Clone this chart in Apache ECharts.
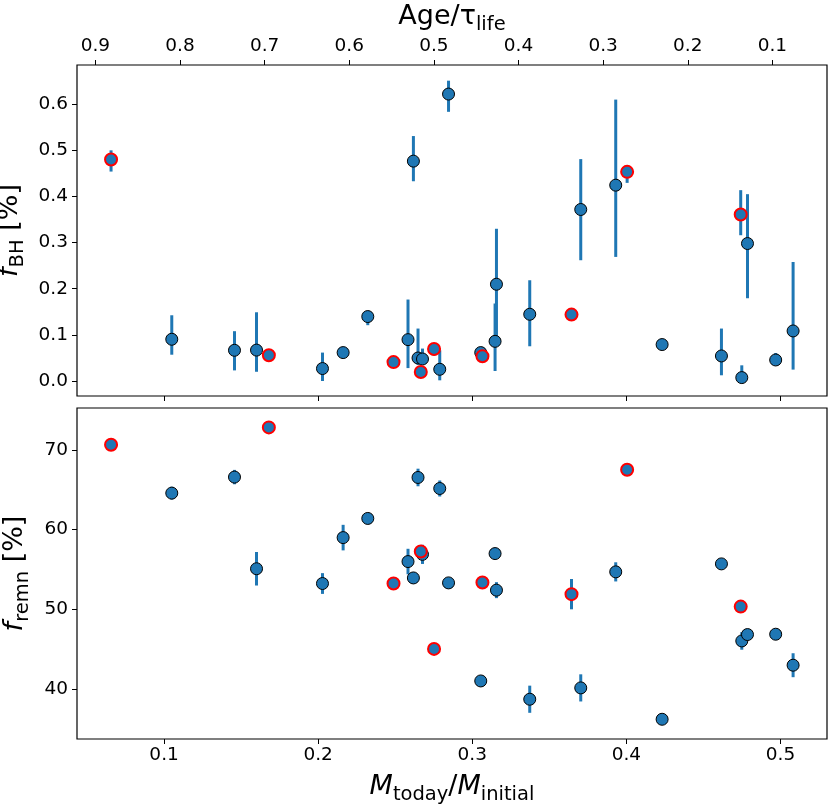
<!DOCTYPE html>
<html>
<head>
<meta charset="utf-8">
<title>f_BH / f_remn vs M_today/M_initial</title>
<script src="https://cdn.jsdelivr.net/npm/echarts@6.0.0/dist/echarts.min.js"></script>
<style>
    html, body { margin: 0; padding: 0; background: #fff; }
    #echart-main { width: 831px; height: 807px; }
</style>
</head>
<body>
<div id="echart-main"></div>
<script>
// M_today / M_initial of each cluster (shared by both panels)
var massRatio = [0.0656, 0.105, 0.1457, 0.160, 0.168, 0.2028, 0.2162, 0.2322, 0.2489, 0.2583, 0.2618,
    0.2648, 0.2666, 0.2677, 0.2752, 0.2789, 0.2846, 0.3055, 0.3066, 0.3148, 0.3157, 0.3373,
    0.3644, 0.3704, 0.3931, 0.4005, 0.4232, 0.4617, 0.4742, 0.4749, 0.4786, 0.4969, 0.5082];

// f_BH [%] with lower / upper error
var fBH = [0.480, 0.0905, 0.0666, 0.067, 0.0557, 0.027, 0.0616, 0.1397, 0.041, 0.0897, 0.4766,
    0.0499, 0.0195, 0.0477, 0.0694, 0.0254, 0.622, 0.0616, 0.0536, 0.086, 0.2098, 0.1447,
    0.144, 0.3718, 0.4245, 0.4534, 0.079, 0.0543, 0.361, 0.0074, 0.298, 0.0456, 0.1085];
var fBHLow = [0.454, 0.057, 0.023, 0.02, 0.0557, 0.0, 0.0616, 0.121, 0.041, 0.028, 0.433,
    0.035, 0.0195, 0.035, 0.055, 0.0015, 0.5835, 0.055, 0.0536, 0.0217, 0.09, 0.0753,
    0.144, 0.2618, 0.269, 0.4295, 0.071, 0.0124, 0.316, -0.005, 0.1794, 0.035, 0.0247];
var fBHHigh = [0.500, 0.1425, 0.108, 0.149, 0.0557, 0.0616, 0.0616, 0.145, 0.041, 0.1766, 0.531,
    0.1137, 0.0195, 0.0703, 0.0694, 0.0666, 0.651, 0.066, 0.0536, 0.168, 0.33, 0.2184,
    0.144, 0.481, 0.610, 0.46, 0.085, 0.1137, 0.4137, 0.034, 0.405, 0.0607, 0.258];

// f_remn [%] with symmetric error
var fRemn = [70.63, 64.57, 66.58, 55.1, 72.8, 53.25, 59.0, 61.4, 53.25, 56.0, 53.95,
    66.53, 57.26, 56.9, 45.06, 65.15, 53.33, 41.05, 53.37, 57.0, 52.42, 38.76,
    51.92, 40.18, 54.71, 67.49, 36.25, 55.71, 50.36, 46.06, 46.86, 46.9, 43.02];
var fRemnErr = [0, 0.8, 0.9, 2.1, 0, 1.3, 1.6, 0.3, 0, 1.6, 0.7,
    1.1, 0, 1.2, 0, 1.0, 0, 0, 0, 0.4, 1.0, 1.7,
    1.9, 1.7, 1.2, 0, 0, 0.6, 0, 1.1, 0.6, 0, 1.5];

// 1 = marker with red edge
var redEdge = [1, 0, 0, 0, 1, 0, 0, 0, 1, 0, 0,
    0, 1, 0, 1, 0, 0, 0, 1, 0, 0, 0,
    1, 0, 0, 1, 0, 0, 1, 0, 0, 0, 0];

// tick labels
var massTicks = [0.1, 0.2, 0.3, 0.4, 0.5];
var ageTicks = [0.1, 0.2, 0.3, 0.4, 0.5, 0.6, 0.7, 0.8, 0.9];
var fBHTicks = [0.0, 0.1, 0.2, 0.3, 0.4, 0.5, 0.6];
var fRemnTicks = [40, 50, 60, 70];

var FONT = 'DejaVu Sans';
var BLUE = '#1f77b4';

/**
 * error bar data: [x, low, high]
 */
function errorData(yLow, yHigh) {
    var list = [];
    for (var i = 0; i < massRatio.length; i++) {
        if (yHigh[i] - yLow[i] > 0) {
            list.push([massRatio[i], yLow[i], yHigh[i]]);
        }
    }
    return list;
}

/**
 * point data split by edge colour
 */
function pointData(yValues, red) {
    var list = [];
    for (var i = 0; i < massRatio.length; i++) {
        if (redEdge[i] === red) {
            list.push([massRatio[i], yValues[i]]);
        }
    }
    return list;
}

function renderErrorBar(params, api) {
    var p1 = api.coord([api.value(0), api.value(1)]);
    var p2 = api.coord([api.value(0), api.value(2)]);
    return {
        type: 'line',
        shape: { x1: p1[0], y1: p1[1], x2: p2[0], y2: p2[1] },
        style: { stroke: BLUE, lineWidth: 3, lineCap: 'butt' }
    };
}

// shallow merge, no jQuery on this page
function extend(a, b) {
    var out = {};
    var k;
    for (k in b) { out[k] = b[k]; }
    for (k in a) { out[k] = a[k]; }
    return out;
}

var tickStyle = { show: true, inside: false, length: 5, lineStyle: { color: '#000', width: 1 } };
var lineStyle = { show: false, onZero: false };
var labelStyle = { fontFamily: FONT, fontSize: 18.5, color: '#000' };
var nameStyle = {
    fontFamily: FONT, fontSize: 27, color: '#000',
    rich: {
        i: { fontFamily: FONT, fontSize: 27, fontStyle: 'italic', color: '#000' },
        n: { fontFamily: FONT, fontSize: 27, color: '#000' },
        s: { fontFamily: FONT, fontSize: 19.5, color: '#000', padding: [16, 0, 0, 0] }
    }
};

function initChart() {
    var myChart = echarts.init(document.getElementById('echart-main'));

    var remnLow = [], remnHigh = [];
    for (var i = 0; i < fRemn.length; i++) {
        remnLow.push(fRemn[i] - fRemnErr[i]);
        remnHigh.push(fRemn[i] + fRemnErr[i]);
    }

    var gridBase = {
        left: 77, right: 4, height: 331, show: true,
        borderColor: '#000', borderWidth: 1.2, backgroundColor: 'transparent',
        containLabel: false, outerBoundsMode: 'none'
    };

    var option = {
        backgroundColor: '#fff',
        animation: false,
        grid: [extend({ top: 65 }, gridBase), extend({ top: 408 }, gridBase)],
        xAxis: [{
            // top panel, M axis (ticks only)
            type: 'value', gridIndex: 0, position: 'bottom',
            min: 0.0435, max: 0.5302,
            axisLine: lineStyle,
            axisTick: extend({ customValues: massTicks }, tickStyle),
            axisLabel: { show: false, customValues: massTicks },
            splitLine: { show: false }
        }, {
            // top panel, Age axis
            type: 'value', gridIndex: 0, position: 'top', inverse: true,
            min: 0.0355, max: 0.9217,
            name: '{n|Age/τ}{s|life}',
            nameLocation: 'middle', nameGap: 30,
            nameTextStyle: nameStyle,
            axisLine: lineStyle,
            axisTick: extend({ customValues: ageTicks }, tickStyle),
            axisLabel: extend({ customValues: ageTicks, margin: 9, formatter: function (v) { return v.toFixed(1); } }, labelStyle),
            splitLine: { show: false }
        }, {
            // bottom panel, M axis
            type: 'value', gridIndex: 1, position: 'bottom',
            min: 0.0435, max: 0.5302,
            name: '{i|M}{s|today}{n|/}{i|M}{s|initial}',
            nameLocation: 'middle', nameGap: 30,
            nameTextStyle: nameStyle,
            axisLine: lineStyle,
            axisTick: extend({ customValues: massTicks }, tickStyle),
            axisLabel: extend({ customValues: massTicks, margin: 7, formatter: function (v) { return v.toFixed(1); } }, labelStyle),
            splitLine: { show: false }
        }],
        yAxis: [{
            type: 'value', gridIndex: 0,
            min: -0.0325, max: 0.685,
            name: '{i|f}{s|BH} [%]',
            nameLocation: 'middle', nameGap: 44,
            nameTextStyle: nameStyle,
            axisLine: lineStyle,
            axisTick: extend({ customValues: fBHTicks }, tickStyle),
            axisLabel: extend({ customValues: fBHTicks, margin: 9, formatter: function (v) { return v.toFixed(1); } }, labelStyle),
            splitLine: { show: false }
        }, {
            type: 'value', gridIndex: 1,
            min: 33.78, max: 75.23,
            name: '{i|f}{s|remn} [%]',
            nameLocation: 'middle', nameGap: 44,
            nameTextStyle: nameStyle,
            axisLine: lineStyle,
            axisTick: extend({ customValues: fRemnTicks }, tickStyle),
            axisLabel: extend({ customValues: fRemnTicks, margin: 9, formatter: function (v) { return String(Math.round(v)); } }, labelStyle),
            splitLine: { show: false }
        }],
        series: [{
            type: 'custom', xAxisIndex: 0, yAxisIndex: 0,
            renderItem: renderErrorBar,
            encode: { x: 0, y: [1, 2] },
            data: errorData(fBHLow, fBHHigh)
        }, {
            type: 'scatter', xAxisIndex: 0, yAxisIndex: 0,
            symbolSize: 12,
            itemStyle: { color: BLUE, borderColor: '#000', borderWidth: 1, opacity: 1 },
            data: pointData(fBH, 0)
        }, {
            type: 'scatter', xAxisIndex: 0, yAxisIndex: 0,
            symbolSize: 12,
            itemStyle: { color: BLUE, borderColor: '#ff0000', borderWidth: 2, opacity: 1 },
            data: pointData(fBH, 1)
        }, {
            type: 'custom', xAxisIndex: 2, yAxisIndex: 1,
            renderItem: renderErrorBar,
            encode: { x: 0, y: [1, 2] },
            data: errorData(remnLow, remnHigh)
        }, {
            type: 'scatter', xAxisIndex: 2, yAxisIndex: 1,
            symbolSize: 12,
            itemStyle: { color: BLUE, borderColor: '#000', borderWidth: 1, opacity: 1 },
            data: pointData(fRemn, 0)
        }, {
            type: 'scatter', xAxisIndex: 2, yAxisIndex: 1,
            symbolSize: 12,
            itemStyle: { color: BLUE, borderColor: '#ff0000', borderWidth: 2, opacity: 1 },
            data: pointData(fRemn, 1)
        }]
    };
    myChart.setOption(option);
}

initChart();
</script>
</body>
</html>
